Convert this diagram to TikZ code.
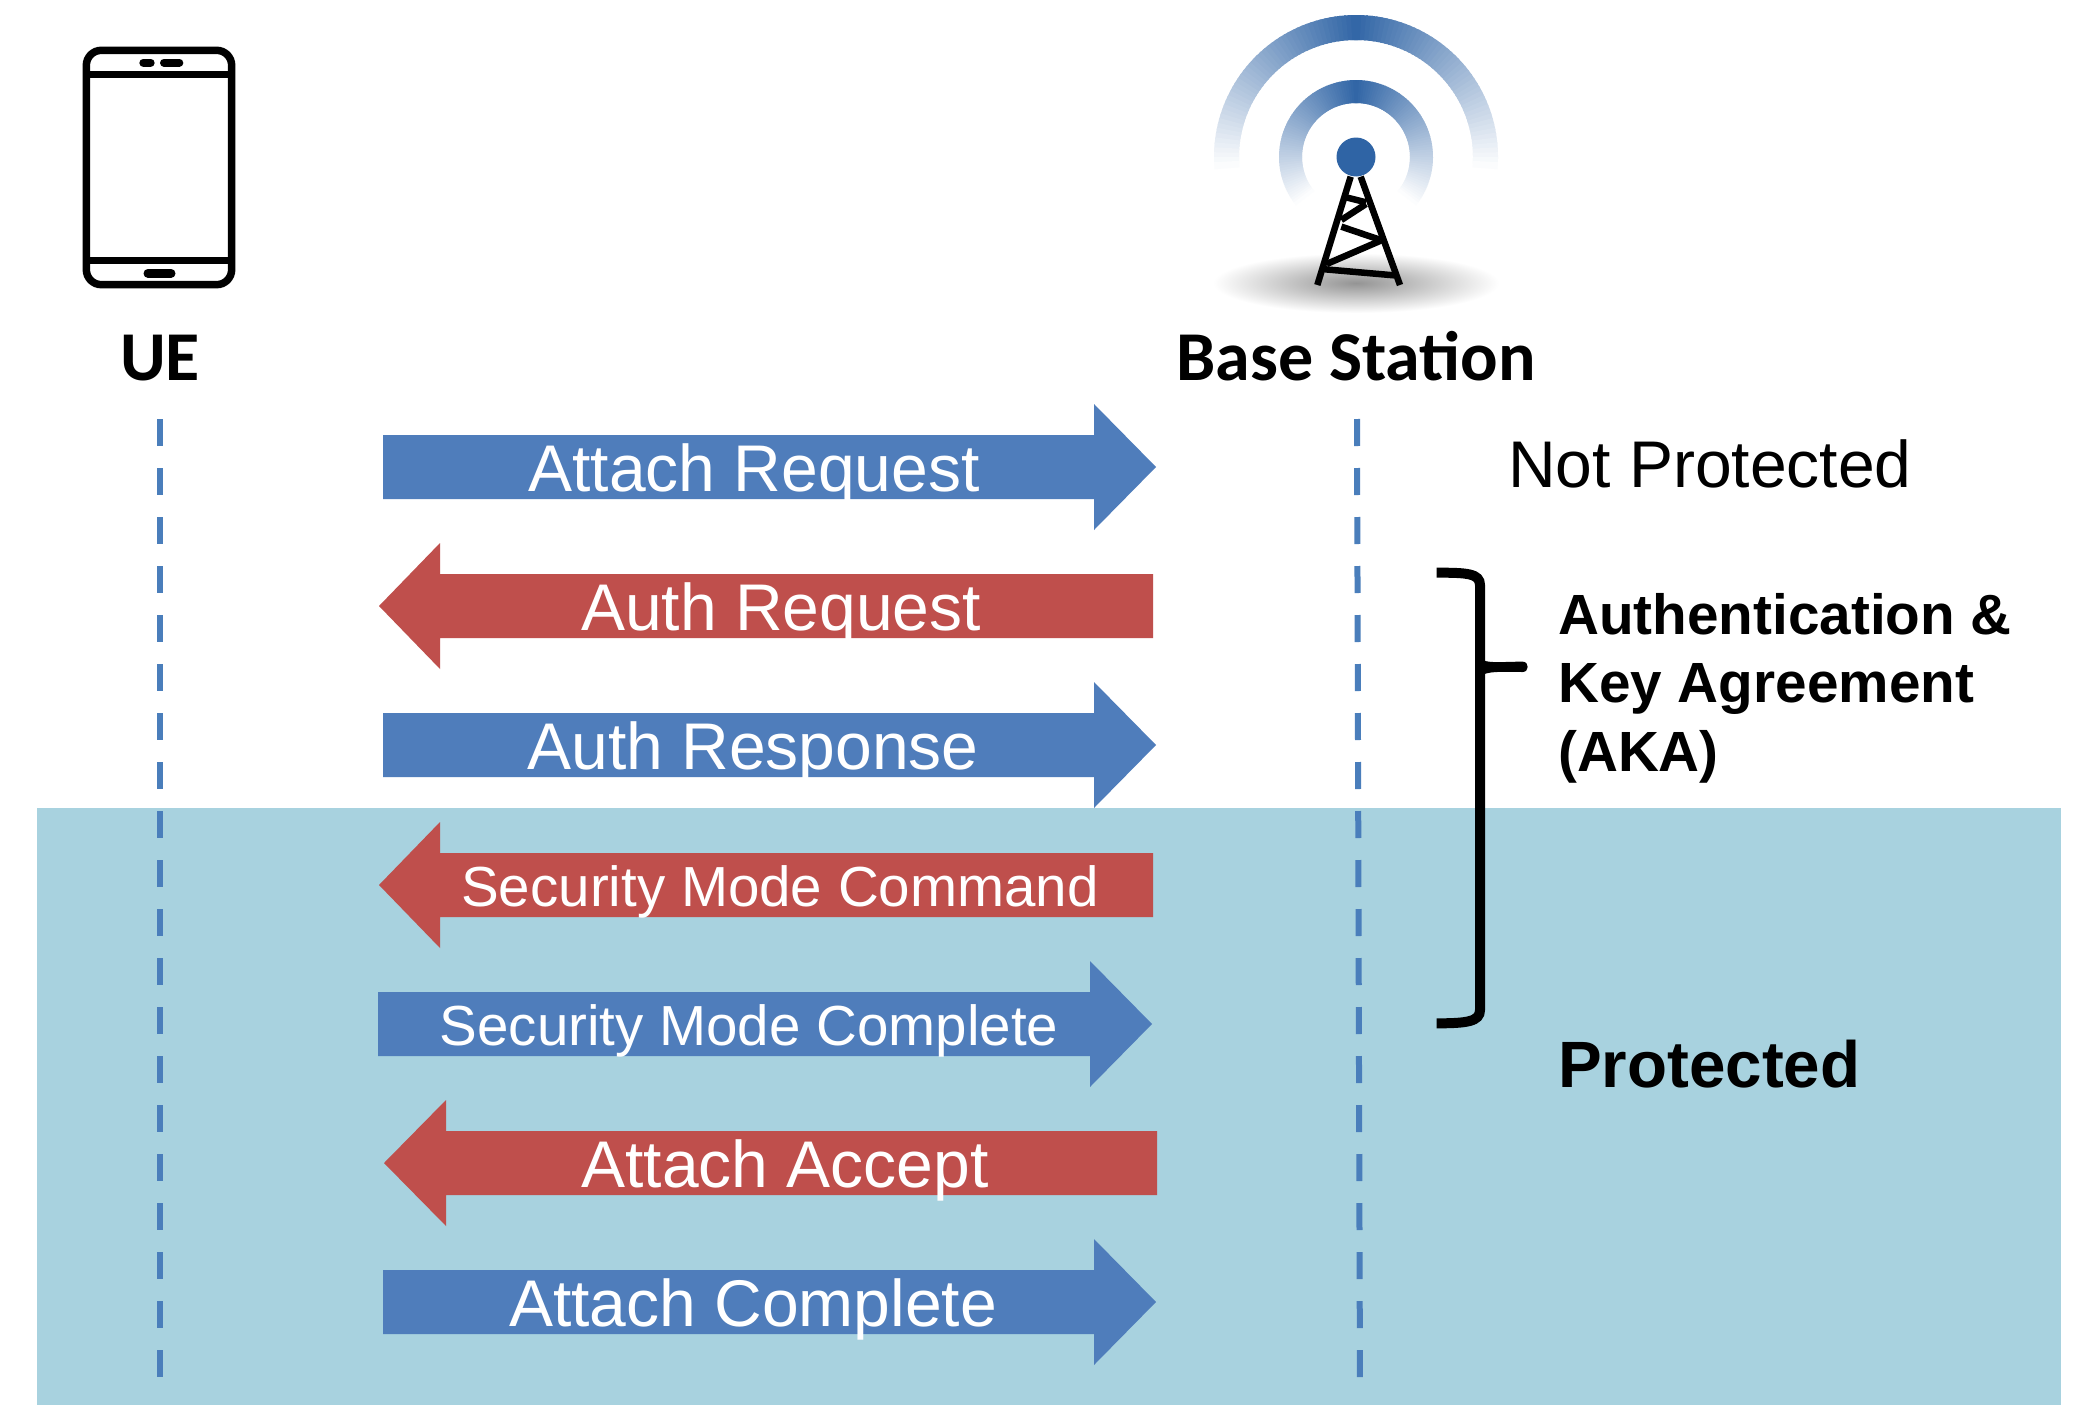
\documentclass[tikz,border=0pt]{standalone}
\usepackage{fontspec}
\setmainfont{Liberation Sans}
\newfontfamily\carl{Carlito}
\definecolor{bluearrow}{HTML}{4F7DBB}
\definecolor{redarrow}{HTML}{BF4F4C}
\definecolor{teal}{HTML}{A8D2DF}
\definecolor{dashblue}{HTML}{4A7EBB}
\definecolor{towerblue}{HTML}{2F64A5}
\tikzset{
  msgtext/.style={text=white,anchor=base,inner sep=0pt,font=\fontsize{66}{66}\selectfont},
  msgsmall/.style={msgtext,font=\fontsize{56.5}{56.5}\selectfont},
  sidetext/.style={anchor=base west,inner sep=0pt,text=black},
  lifeline/.style={draw=dashblue,line width=6pt,dash pattern=on 27pt off 22pt},
  icon/.style={line width=7.5pt,black},
  towerline/.style={line width=6.5pt,black},
}
% right-pointing arrow: x0 = tail, xb = head base, x1 = tip, y = centre
\newcommand{\rightmsg}[4]{\fill[bluearrow] (#1,#4-32) -- (#2,#4-32) -- (#2,#4-63) -- (#3,#4) -- (#2,#4+63) -- (#2,#4+32) -- (#1,#4+32) -- cycle;}
\newcommand{\leftmsg}[4]{\fill[redarrow] (#1,#4-32) -- (#2,#4-32) -- (#2,#4-63) -- (#3,#4) -- (#2,#4+63) -- (#2,#4+32) -- (#1,#4+32) -- cycle;}
\begin{document}
\begin{tikzpicture}[x=1pt,y=-1pt]
\useasboundingbox (0,0) rectangle (2086,1405);
\fill[white] (0,0) rectangle (2086,1405);
\fill[teal] (37,808) rectangle (2061,1405);

% lifelines
\coordinate (ueTop) at (160,419);
\coordinate (ueBot) at (160,1395);
\coordinate (bsTop) at (1357,419);
\coordinate (bsBot) at (1360,1395);
\draw[lifeline] (ueTop) -- (ueBot);
\draw[lifeline] (bsTop) -- (bsBot);

% phone
\begin{scope}[shift={(60,30)},x=0.33333pt,y=-0.33333pt]
  \draw[icon,rounded corners=15pt] (79,61) rectangle (515,764);
  \draw[icon] (79,134) -- (515,134);
  \draw[icon] (79,692) -- (515,692);
  \draw[line width=8pt,line cap=round] (250,98) -- (272,98);
  \draw[line width=8pt,line cap=round] (312,98) -- (358,98);
  \draw[line width=9pt,line cap=round] (264,730) -- (333,730);
\end{scope}

% base station
\shade[inner color=black!42,outer color=white] (1356,283) ellipse[x radius=143pt,y radius=30pt];
\foreach \a in {0,2,...,94}{
  \pgfmathsetmacro\p{100*(1-\a/96)}
  \draw[color=towerblue!\p!white,line width=25pt] ({1356+129.5*cos(90+\a+1)},{157-129.5*sin(90+\a+1)}) arc[start angle=90+\a+1,end angle=90+\a-2,radius=129.5pt];
  \draw[color=towerblue!\p!white,line width=25pt] ({1356+129.5*cos(90-\a-1)},{157-129.5*sin(90-\a-1)}) arc[start angle=90-\a-1,end angle=90-\a+2,radius=129.5pt];
}
\foreach \a in {0,2,...,128}{
  \pgfmathsetmacro\p{100*(1-\a/130)}
  \draw[color=towerblue!\p!white,line width=23pt] ({1356+65.5*cos(90+\a+1)},{157-65.5*sin(90+\a+1)}) arc[start angle=90+\a+1,end angle=90+\a-2,radius=65.5pt];
  \draw[color=towerblue!\p!white,line width=23pt] ({1356+65.5*cos(90-\a-1)},{157-65.5*sin(90-\a-1)}) arc[start angle=90-\a-1,end angle=90-\a+2,radius=65.5pt];
}
\begin{scope}[shift={(1180,0)},x=0.33333pt,y=-0.33333pt]
  \draw[towerline] (512,530) -- (412,855);
  \draw[towerline] (542,530) -- (660,855);
  \draw[towerline] (498,592) -- (558,607);
  \draw[towerline] (558,612) -- (484,660);
  \draw[towerline] (484,680) -- (602,720);
  \draw[towerline] (602,722) -- (440,792);
  \draw[towerline] (435,808) -- (642,826);
\end{scope}
\fill[towerblue] (1356,157) circle[radius=19.5pt];

% labels
\node[inner sep=0pt,anchor=base,font=\carl\bfseries\fontsize{70}{70}\selectfont] (ue) at (160,380) {UE};
\node[inner sep=0pt,anchor=base,font=\carl\bfseries\fontsize{70}{70}\selectfont] (bs) at (1356,380) {Base Station};

% messages
\rightmsg{383}{1094}{1156}{467}
\node[msgtext] (m1) at (754,491) {Attach Request};
\leftmsg{1153}{440}{379}{606}
\node[msgtext] (m2) at (781,630) {Auth Request};
\rightmsg{383}{1094}{1156}{745}
\node[msgtext] (m3) at (753,769) {Auth Response};
\leftmsg{1153}{440}{379}{885}
\node[msgsmall] (m4) at (780,906) {Security Mode Command};
\rightmsg{378}{1090}{1152}{1024}
\node[msgsmall] (m5) at (749,1045) {Security Mode Complete};
\leftmsg{1157}{446}{384}{1163}
\node[msgtext] (m6) at (785,1187) {Attach Accept};
\rightmsg{383}{1094}{1156}{1302}
\node[msgtext] (m7) at (753,1326) {Attach Complete};

% right side
\node[sidetext,font=\fontsize{66}{66}\selectfont] (np) at (1508,487) {Not Protected};
\node[sidetext,font=\bfseries\fontsize{56.7}{56.7}\selectfont] (aka1) at (1558,634) {Authentication \&};
\node[sidetext,font=\bfseries\fontsize{56.7}{56.7}\selectfont] (aka2) at (1558,702) {Key Agreement};
\node[sidetext,font=\bfseries\fontsize{56.7}{56.7}\selectfont] (aka3) at (1558,771) {(AKA)};
\node[sidetext,font=\bfseries\fontsize{65.5}{65.5}\selectfont] (prot) at (1558,1087) {Protected};

% brace
\begin{scope}[shift={(1400,540)},x=0.33333pt,y=-0.33333pt]
  \draw[line width=10pt] (110,98) .. controls (200,98) and (240,100) .. (240,135) -- (240,1410) .. controls (240,1445) and (200,1450) .. (110,1450);
  \fill (240,355) .. controls (260,372) and (300,365) .. (368,365) .. controls (388,365) and (388,396) .. (368,396) .. controls (300,396) and (260,392) .. (240,410) -- cycle;
\end{scope}
\end{tikzpicture}
\end{document}
